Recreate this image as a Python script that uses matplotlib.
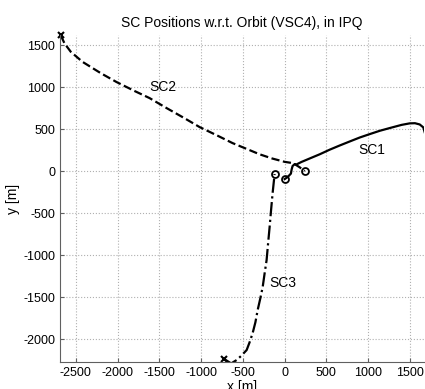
import numpy as np
import matplotlib
matplotlib.use("Agg")
from matplotlib import pyplot as plt

plt.rcParams['font.family'] = ['Liberation Sans', 'DejaVu Sans']
plt.rcParams['axes.unicode_minus'] = False

# SC1 (solid), right end -> end circle
sc1_x = [1700, 1676, 1660, 1617, 1560, 1497, 1400, 1257, 1140, 1018, 900, 778, 660, 540, 420, 300, 200, 140, 120, 95, 84, 75, 36, 0]
sc1_y = [380, 464, 520, 555, 570, 568, 550, 512, 480, 440, 400, 352, 305, 255, 200, 150, 108, 78, 83, 60, 20, -30, -71, -95]
# SC2 (dashed)
sc2_x = [-2680, -2635, -2560, -2419, -2200, -2012, -1800, -1617, -1413, -1200, -1018, -800, -623, -450, -300, -150, 0, 96, 120, 180, 240]
sc2_y = [1615, 1520, 1420, 1300, 1165, 1060, 955, 869, 750, 630, 524, 420, 333, 262, 200, 150, 110, 95, 83, 45, 0]
# SC3 (dash-dot)
sc3_x = [-720, -640, -575, -520, -455, -420, -383, -350, -323, -290, -263, -240, -216, -198, -180, -162, -144, -130, -120]
sc3_y = [-2240, -2290, -2250, -2200, -2131, -2040, -1929, -1800, -1655, -1510, -1381, -1220, -1060, -860, -667, -460, -262, -130, -36]

fig = plt.figure(figsize=(4.25, 3.89), dpi=100)
ax = fig.add_axes([0.141, 0.069, 0.857, 0.841])

ax.plot(sc1_x, sc1_y, 'k-', lw=1.6)
ax.plot(sc2_x, sc2_y, 'k--', lw=1.6)
ax.plot(sc3_x, sc3_y, 'k-.', lw=1.6)
# start (x) and end (o) markers
for xs, ys in [(sc2_x, sc2_y), (sc3_x, sc3_y)]:
    ax.plot(xs[0], ys[0], 'kx', ms=4, mew=1.5, clip_on=False)
for xs, ys in [(sc1_x, sc1_y), (sc2_x, sc2_y), (sc3_x, sc3_y)]:
    ax.plot(xs[-1], ys[-1], 'ko', ms=5, mfc='none', mew=1.3)

ax.text(880, 200, 'SC1', fontsize=10)
ax.text(-1620, 950, 'SC2', fontsize=10)
ax.text(-180, -1380, 'SC3', fontsize=10)

ax.set_xlim(-2690, 1670)
ax.set_ylim(-2275, 1620)
ax.set_xticks(np.arange(-2500, 1501, 500))
ax.set_yticks(np.arange(-2000, 1501, 500))
ax.grid(True, linestyle=':', color='#b0b0b0', lw=0.8)
ax.tick_params(direction='in', length=3, labelsize=9, color='#606060')
for s in ['top', 'right']:
    ax.spines[s].set_visible(False)
for s in ['left', 'bottom']:
    ax.spines[s].set_color('#606060')

ax.set_title('SC Positions w.r.t. Orbit (VSC4), in IPQ', fontsize=10)
ax.set_xlabel('x [m]', fontsize=10, labelpad=1)
ax.set_ylabel('y [m]', fontsize=10, labelpad=2)

plt.savefig('out.png', dpi=100)
